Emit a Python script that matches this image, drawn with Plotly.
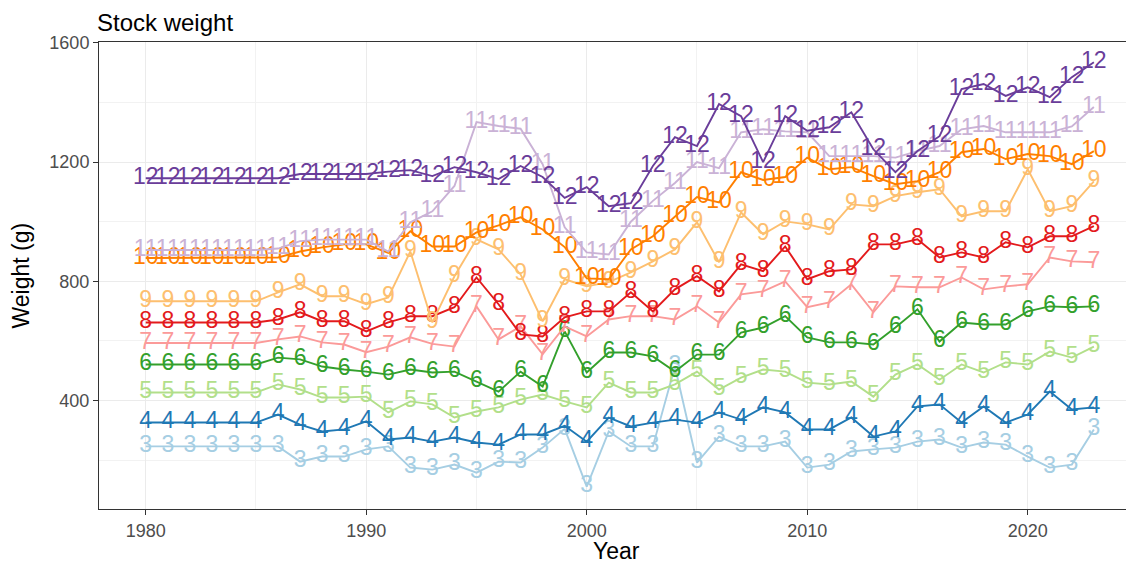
import plotly.graph_objects as go

years = list(range(1980, 2024))

ages = ["3", "4", "5", "6", "7", "8", "9", "10", "11", "12"]

age3 = [246]*7 + [195, 212, 212, 236, 246, 175, 168, 185, 158, 195, 192, 242, 305, 111, 296, 246, 246, 514,
                  192, 279, 246, 246, 262, 175, 185, 229, 236, 242, 262, 269, 242, 259, 252, 212, 175, 185, 303]
age4 = [326]*6 + [353, 319, 296, 303, 330, 269, 276, 262, 276, 259, 252, 286, 286, 315, 262, 343, 313, 326, 336,
                  326, 360, 336, 377, 360, 303, 303, 343, 279, 296, 380, 387, 326, 380, 326, 353, 430, 370, 377]
age5 = [427]*6 + [454, 437, 410, 410, 413, 360, 397, 387, 343, 363, 377, 403, 420, 397, 377, 460, 427, 427, 454,
                  497, 437, 477, 504, 497, 460, 454, 464, 413, 487, 521, 470, 521, 494, 528, 521, 564, 544, 581]
age6 = [521]*6 + [544, 538, 514, 504, 497, 487, 504, 494, 497, 464, 430, 497, 447, 632, 494, 561, 561, 548, 497,
                  554, 554, 628, 645, 683, 612, 595, 595, 588, 645, 706, 598, 662, 655, 655, 699, 716, 713, 716]
age7 = [593]*6 + [605, 615, 595, 588, 562, 581, 612, 590, 581, 716, 605, 649, 555, 649, 615, 672, 683, 683, 672,
                  716, 662, 756, 766, 800, 713, 729, 790, 696, 783, 780, 780, 813, 773, 783, 790, 880, 867, 864]
age8 = [662]*6 + [672, 696, 666, 666, 632, 662, 683, 683, 713, 813, 723, 622, 615, 679, 699, 699, 763, 699, 773,
                  817, 766, 857, 834, 917, 807, 834, 840, 924, 924, 941, 880, 897, 880, 931, 914, 951, 951, 985]
age9 = [733]*6 + [763, 790, 750, 750, 723, 746, 900, 662, 817, 941, 907, 823, 666, 807, 783, 797, 830, 867, 907,
                  998, 864, 1031, 958, 1001, 991, 974, 1058, 1052, 1086, 1099, 1109, 1018, 1035, 1035, 1176, 1035,
                  1052, 1135]
age10 = [878]*6 + [880, 900, 914, 924, 924, 895, 968, 917, 917, 964, 988, 1015, 974, 915, 810, 807, 907, 951, 1018,
                   1083, 1065, 1166, 1140, 1150, 1215, 1176, 1183, 1153, 1126, 1136, 1166, 1233, 1244, 1210, 1227,
                   1220, 1193, 1237]
age11 = [905]*6 + [910, 935, 940, 940, 940, 900, 998, 1035, 1120, 1334, 1321, 1312, 1193, 981, 897, 890, 1000, 1070,
                   1130, 1200, 1180, 1300, 1310, 1303, 1300, 1220, 1220, 1220, 1215, 1237, 1254, 1310, 1321, 1300,
                   1300, 1300, 1320, 1385]
age12 = [1146]*7 + [1160, 1160, 1160, 1160, 1168, 1173, 1153, 1183, 1166, 1143, 1187, 1150, 1080, 1116, 1052, 1062,
                    1187, 1284, 1254, 1395, 1354, 1200, 1354, 1305, 1317, 1367, 1243, 1166, 1237, 1287, 1445, 1462,
                    1422, 1451, 1418, 1485, 1535]

series = [age3, age4, age5, age6, age7, age8, age9, age10, age11, age12]
colors = ["#A6CEE3", "#1F78B4", "#B2DF8A", "#33A02C", "#FB9A99",
          "#E31A1C", "#FDBF6F", "#FF7F00", "#CAB2D6", "#6A3D9A"]

FONT = "Liberation Sans, Arial, Helvetica, sans-serif"

fig = go.Figure()
for age, vals, col in zip(ages, series, colors):
    fig.add_trace(go.Scatter(
        x=years, y=vals, mode="lines+text", text=[age]*len(years),
        textposition="middle center",
        textfont=dict(family=FONT, size=23, color=col),
        line=dict(color=col, width=1.9),
        showlegend=False, cliponaxis=False,
    ))

fig.update_layout(
    width=1126, height=558,
    margin=dict(l=91, r=0, t=34, b=57),
    plot_bgcolor="white", paper_bgcolor="white",
    font=dict(family=FONT),
    xaxis=dict(
        range=[1977.88, 2024.82], tickvals=[1980, 1990, 2000, 2010, 2020],
        showgrid=True, gridcolor="#EBEBEB", gridwidth=1.2,
        minor=dict(tickvals=[1985, 1995, 2005, 2015], showgrid=True, gridcolor="#F2F2F2", gridwidth=0.8, ticks=""),
        showline=True, linecolor="#333333", linewidth=1, mirror=True,
        ticks="outside", ticklen=5, tickcolor="#333333",
        tickfont=dict(family=FONT, size=18, color="#4D4D4D"),
        zeroline=False,
    ),
    yaxis=dict(
        range=[36, 1603], tickvals=[400, 800, 1200, 1600],
        showgrid=True, gridcolor="#EBEBEB", gridwidth=1.2,
        minor=dict(tickvals=[200, 600, 1000, 1400], showgrid=True, gridcolor="#F2F2F2", gridwidth=0.8, ticks=""),
        showline=True, linecolor="#333333", linewidth=1, mirror=False,
        ticks="outside", ticklen=5, tickcolor="#333333",
        tickfont=dict(family=FONT, size=18, color="#4D4D4D"),
        zeroline=False,
    ),
    annotations=[
        dict(text="Stock weight", xref="paper", yref="paper", x=0, y=1, xanchor="left", yanchor="middle",
             xshift=-4, yshift=20, showarrow=False, font=dict(family=FONT, size=24, color="black")),
        dict(text="Weight (g)", xref="paper", yref="paper", x=0, y=0.5, xanchor="center", yanchor="middle",
             xshift=-79, textangle=-90, showarrow=False, font=dict(family=FONT, size=23, color="black")),
        dict(text="Year", xref="paper", yref="paper", x=0.5, y=0, xanchor="center", yanchor="middle",
             yshift=-42, showarrow=False, font=dict(family=FONT, size=23, color="black")),
    ],
)

fig.write_html("out.html")
